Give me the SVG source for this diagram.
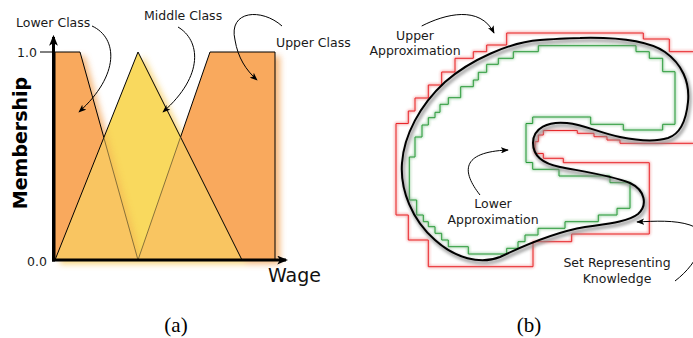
<svg xmlns="http://www.w3.org/2000/svg" width="693" height="338" viewBox="0 0 693 338">
<defs>
<style>
.lbl{font-family:"DejaVu Sans","Noto Sans",sans-serif;font-size:12.5px;fill:#1a1a1a}
.cap{font-family:"Liberation Serif","DejaVu Serif",serif;font-size:21px;fill:#000}
.edge{fill:none;stroke:#000;stroke-width:1}
.orange{fill:#F9A95D;stroke:#000;stroke-width:1}
.red{fill:none;stroke:#E8262A;stroke-width:1}
.green{fill:none;stroke:#2A9A3A;stroke-width:1}
</style>
<marker id="ah" viewBox="0 0 10 8" refX="9" refY="4" markerWidth="8" markerHeight="6.4" markerUnits="userSpaceOnUse" orient="auto"><path d="M0,0 L10,4 L0,8 L2.5,4z" fill="#000"/></marker>
<marker id="axh" viewBox="0 0 10 8" refX="8" refY="4" markerWidth="11" markerHeight="9" markerUnits="userSpaceOnUse" orient="auto"><path d="M0,0 L10,4 L0,8 L2.5,4z" fill="#000"/></marker>
<filter id="blur3" x="-20%" y="-20%" width="140%" height="140%"><feGaussianBlur stdDeviation="3"/></filter>
<filter id="blur2" x="-20%" y="-20%" width="140%" height="140%"><feGaussianBlur stdDeviation="1.6"/></filter>
<filter id="glow" x="-10%" y="-10%" width="120%" height="120%"><feGaussianBlur in="SourceGraphic" stdDeviation="1.6" result="b"/><feMerge><feMergeNode in="b"/><feMergeNode in="SourceGraphic"/></feMerge></filter>
<clipPath id="triclip"><polygon points="55,260 138,52 242,260"/></clipPath>
<path id="setp" d="M580,38 C620,37 650,42 665,52 C682,64 690,82 688,102 C686,122 680,134 668,138 C655,142 640,141 620,137 C600,133 585,125 567,123 C548,121 533,128 533,143 C533,158 545,164 560,167 C580,171 610,175 630,183 C645,190 648,205 638,214 C628,222 605,224 585,227 C555,232 525,245 500,257 C480,265 455,258 435,240 C412,220 400,190 402,163 C404,135 420,105 445,82 C470,60 510,42 540,40 C555,39 570,38 580,38 Z"/>
</defs>
<rect width="693" height="338" fill="#fff"/>

<!-- Panel (a) -->
<g id="shadows-a" filter="url(#blur3)" opacity="0.75">
<polygon points="60,56 85,56 143,264 60,264" fill="#F2A050"/>
<polygon points="143,264 215,56 280,56 280,264" fill="#F2A050"/>
<polygon points="60,264 143,56 247,264" fill="#F6C850"/>
</g>
<g id="lower-class">
<polygon class="orange" points="55,52 80,52 138,260 55,260"/>
</g>
<g id="upper-class">
<polygon class="orange" points="138,260 210,52 275,52 275,260"/>
</g>
<g id="middle-class">
<polygon points="55,260 138,52 242,260" fill="#F9D95E"/>
<g clip-path="url(#triclip)"><polygon points="60,56 85,56 143,264 60,264" fill="#F2A650" filter="url(#blur3)" opacity="0.45"/></g>
<polygon points="55,260 103.8,137.6 138,260" fill="#F9C561"/>
<polygon points="138,260 180.5,137.1 242,260" fill="#F9C561"/>
<polygon class="edge" points="55,260 138,52 242,260"/>
<line x1="103.8" y1="137.6" x2="138" y2="260" stroke="#6b5a30" stroke-width="0.8"/>
<line x1="180.5" y1="137.1" x2="138" y2="260" stroke="#6b5a30" stroke-width="0.8"/>
</g>
<g id="axes">
<line x1="53.5" y1="261.5" x2="53.5" y2="37" stroke="#000" stroke-width="3" marker-end="url(#axh)"/>
<line x1="52" y1="260" x2="286" y2="260" stroke="#000" stroke-width="3" marker-end="url(#axh)"/>
<line x1="40" y1="52" x2="53" y2="52" stroke="#000" stroke-width="1"/>
<text class="lbl" x="17" y="57">1.0</text>
<text class="lbl" x="27" y="266">0.0</text>
<text x="268" y="282" style="font-family:'DejaVu Sans',sans-serif;font-size:19px;fill:#111">Wage</text>
<text transform="translate(27,143) rotate(-90)" text-anchor="middle" style="font-family:'DejaVu Sans',sans-serif;font-size:19px;font-weight:bold;fill:#000">Membership</text>
</g>
<g id="labels-a">
<text class="lbl" x="16" y="27">Lower Class</text>
<text class="lbl" x="144" y="20">Middle Class</text>
<text class="lbl" x="276" y="47">Upper Class</text>
</g>

<!-- Panel (b) -->
<g id="upper-approx" filter="url(#glow)">
<path class="red" d="M396,215 L396,123.5 L408.3,123.5 L408.3,111 L415,111 L415,98 L428.3,98 L428.3,85 L441.7,85 L441.7,72 L455,72 L455,58.3 L473.3,58.3 L473.3,51.7 L486.7,51.7 L486.7,45 L506.7,45 L506.7,33 L643.3,33 L643.3,39 L669.3,39 L669.3,51.7 L694,51.7"/>
<path class="red" d="M694,143.3 L620,143.3 L620,140 L607,140 L607,136.7 L594,136.7 L594,133.3 L577.3,133.3 L577.3,130.5 L543.3,130.5 L543.3,135 L538.3,135 L538.3,141.7 L535,141.7 L535,153.5 L543.3,153.5 L543.3,158.3 L563.3,158.3 L563.3,162.7 L649.3,162.7 L649.3,234 L571.7,234 L571.7,241.7 L533,241.7 L533,266.7 L428.3,266.7 L428.3,240 L408.3,240 L408.3,215 L396,215"/>
</g>
<g id="lower-approx" filter="url(#glow)">
<path class="green" d="M409.3,200 L409.3,157 L415,157 L415,137 L422,137 L422,125 L428.3,125 L428.3,117.7 L435,117.7 L435,112.3 L440,112.3 L440,104.3 L448.3,104.3 L448.3,97.7 L460.7,97.7 L460.7,86.7 L473.3,86.7 L473.3,80 L478.3,80 L478.3,72.3 L486.7,72.3 L486.7,64.3 L498.3,64.3 L498.3,58.3 L513.3,58.3 L513.3,51.7 L538.3,51.7 L538.3,45.7 L636,45.7 L636,51.7 L649.3,51.7 L649.3,58.3 L662.7,58.3 L662.7,71.7 L675,71.7 L675,124.3 L662.7,124.3 L662.7,130 L623.3,130 L623.3,124.3 L590.7,124.3 L590.7,117 L532.7,117 L532.7,123.5 L526,123.5 L526,162.5 L532.7,162.5 L532.7,169.3 L559,169.3 L559,176 L610,176 L610,182.7 L630,182.7 L630,208.3 L617,208.3 L617,215 L598.3,215 L598.3,221.7 L565,221.7 L565,228.3 L538,228.3 L538,235 L525,235 L525,241.7 L518,241.7 L518,248.3 L506.7,248.3 L506.7,254 L468.3,254 L468.3,246.7 L448.3,246.7 L448.3,240 L441.7,240 L441.7,233.3 L435,233.3 L435,226.7 L428.3,226.7 L428.3,221.7 L423.3,221.7 L423.3,215 L416.7,215 L416.7,200 Z"/>
</g>
<g id="set">
<use href="#setp" fill="none" stroke="#8a8a8a" stroke-width="4" transform="translate(1.5,2.5)" filter="url(#blur2)" opacity="0.7"/>
<use href="#setp" fill="none" stroke="#000" stroke-width="2"/>
</g>
<g id="labels-b">
<text class="lbl" x="415" y="40" text-anchor="middle">Upper</text>
<text class="lbl" x="415" y="55" text-anchor="middle">Approximation</text>
<text class="lbl" x="493" y="208" text-anchor="middle">Lower</text>
<text class="lbl" x="493" y="224" text-anchor="middle">Approximation</text>
<text class="lbl" x="617" y="267" text-anchor="middle">Set Representing</text>
<text class="lbl" x="617" y="283" text-anchor="middle">Knowledge</text>
</g>

<g id="connectors" fill="none" stroke="#000" stroke-width="1">
<path d="M92,26 C118,38 120,75 79,112" marker-end="url(#ah)"/>
<path d="M178,27 C200,40 205,75 163,112" marker-end="url(#ah)"/>
<path d="M282,26 C262,8 228,10 235,40 C238,58 246,70 257,80" marker-end="url(#ah)"/>
<path d="M421.7,26 C445,14 480,5 494,33" marker-end="url(#ah)"/>
<path d="M480,195 C462,172 460,152 508,150" marker-end="url(#ah)"/>
<path d="M675,281 C700,262 712,232 690,225 C675,220 655,221 637,222" marker-end="url(#ah)"/>
</g>

<text class="cap" x="176" y="332" text-anchor="middle">(a)</text>
<text class="cap" x="529" y="332" text-anchor="middle">(b)</text>
</svg>
